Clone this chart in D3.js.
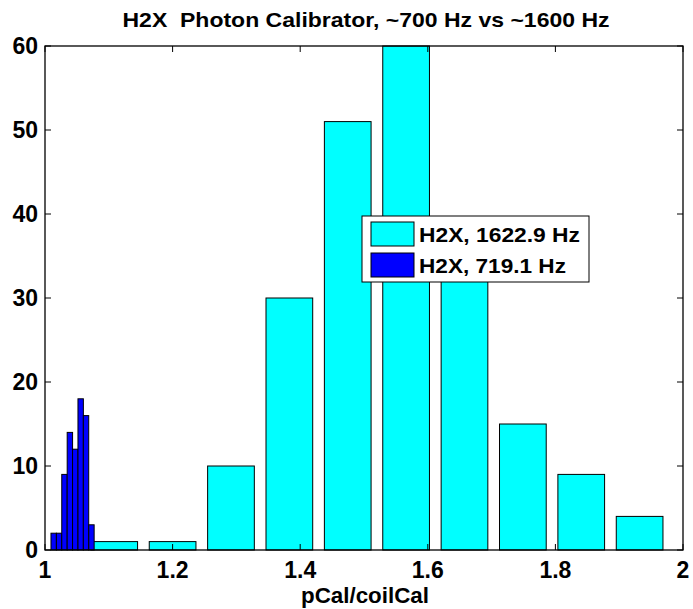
<!DOCTYPE html>
<html><head><meta charset="utf-8">
<script src="https://cdn.jsdelivr.net/npm/d3@7"></script>
<style>body{margin:0;background:#fff}svg{display:block}text{font-family:"Liberation Sans",Arial,sans-serif;font-weight:bold;fill:#000;white-space:pre}</style>
</head><body>
<svg id="c" width="693" height="609"></svg>
<script>
// ---- data ----
const cyanCenters = [1.1085, 1.2, 1.2915, 1.383, 1.4745, 1.566, 1.6575, 1.749, 1.8405, 1.932];
const cyanCounts  = [1, 1, 10, 30, 51, 60, 33, 15, 9, 4];
const blueCenters = [1.0136, 1.0221, 1.0305, 1.039, 1.0474, 1.0559, 1.0643, 1.0728];
const blueCounts  = [2, 2, 9, 14, 12, 18, 16, 3];
const xTicks = [1, 1.2, 1.4, 1.6, 1.8, 2];
const yTicks = [0, 10, 20, 30, 40, 50, 60];
const seriesNames = ["H2X, 1622.9 Hz", "H2X, 719.1 Hz"];
const titleText = "H2X  Photon Calibrator, ~700 Hz vs ~1600 Hz";
const xLabelText = "pCal/coilCal";

const svg = d3.select("#c");
const L = 45, R = 683, T = 46, B = 550;
const x = d3.scaleLinear().domain([1, 2]).range([L, R]);
const y = d3.scaleLinear().domain([0, 60]).range([B, T]);

const cyanW = 0.0732, blueW = 0.00845;

svg.append("g").selectAll("rect").data(cyanCenters).join("rect")
  .attr("x", (d) => x(d - cyanW/2)).attr("width", x(1 + cyanW) - x(1))
  .attr("y", (d, i) => y(cyanCounts[i])).attr("height", (d, i) => y(0) - y(cyanCounts[i]))
  .attr("fill", "#00ffff").attr("stroke", "#000").attr("stroke-width", 1);

svg.append("g").selectAll("rect").data(blueCenters).join("rect")
  .attr("x", (d) => x(d - blueW/2)).attr("width", x(1 + blueW) - x(1))
  .attr("y", (d, i) => y(blueCounts[i])).attr("height", (d, i) => y(0) - y(blueCounts[i]))
  .attr("fill", "#0000ff").attr("stroke", "#000").attr("stroke-width", 1);

// axes box with inward ticks
const tl = 6;
const ax = svg.append("g");
ax.append("rect").attr("x", L).attr("y", T).attr("width", R - L).attr("height", B - T)
  .attr("fill", "none").attr("stroke", "#000").attr("stroke-width", 1.3);
xTicks.forEach(t => {
  ax.append("line").attr("x1", x(t)).attr("x2", x(t)).attr("y1", B).attr("y2", B - tl).attr("stroke", "#000");
  ax.append("line").attr("x1", x(t)).attr("x2", x(t)).attr("y1", T).attr("y2", T + tl).attr("stroke", "#000");
  ax.append("text").attr("x", x(t)).attr("y", 578).attr("text-anchor", "middle")
    .attr("font-size", 23).text(t);
});
yTicks.forEach(t => {
  ax.append("line").attr("x1", L).attr("x2", L + tl).attr("y1", y(t)).attr("y2", y(t)).attr("stroke", "#000");
  ax.append("line").attr("x1", R).attr("x2", R - tl).attr("y1", y(t)).attr("y2", y(t)).attr("stroke", "#000");
  ax.append("text").attr("x", 38).attr("y", y(t) + 8).attr("text-anchor", "end")
    .attr("font-size", 23).text(t);
});

svg.append("text").attr("x", 366).attr("y", 27).attr("text-anchor", "middle")
  .attr("font-size", 21).attr("textLength", 487).attr("lengthAdjust", "spacingAndGlyphs").text(titleText);
svg.append("text").attr("x", 365).attr("y", 603).attr("text-anchor", "middle")
  .attr("font-size", 22).attr("textLength", 128).attr("lengthAdjust", "spacingAndGlyphs").text(xLabelText);

// legend
const lg = svg.append("g");
lg.append("rect").attr("x", 362).attr("y", 216).attr("width", 227).attr("height", 66)
  .attr("fill", "#fff").attr("stroke", "#000").attr("stroke-width", 1);
const cols = ["#00ffff", "#0000ff"];
const legW = [161, 147];
seriesNames.forEach((n, i) => {
  lg.append("rect").attr("x", 371).attr("y", 222 + i*31).attr("width", 43).attr("height", 24)
    .attr("fill", cols[i]).attr("stroke", "#000");
  lg.append("text").attr("x", 419).attr("y", 242 + i*31).attr("font-size", 21)
    .attr("textLength", legW[i]).attr("lengthAdjust", "spacingAndGlyphs").text(n);
});
</script>
</body></html>
